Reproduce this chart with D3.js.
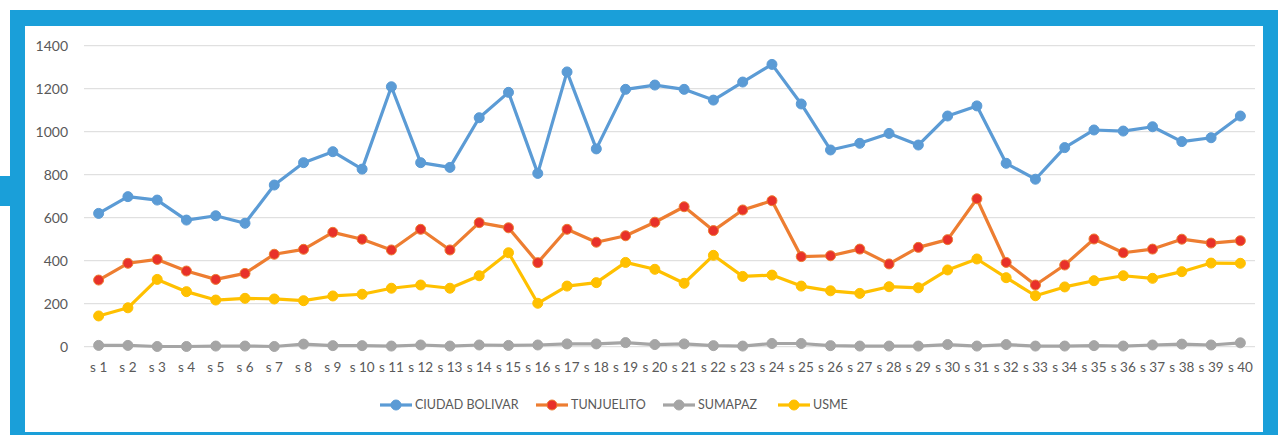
<!DOCTYPE html>
<html>
<head>
<meta charset="utf-8">
<script src="https://cdn.jsdelivr.net/npm/d3@7"></script>
<style>
body { margin:0; background:#fff; }
svg { display:block; font-family: Lato, "Open Sans", sans-serif; }
</style>
</head>
<body>
<svg></svg>
<script>
var WIDTH = 1286;
var HEIGHT = 435;

var semanas = d3.range(1,41).map(function(i){ return 's ' + i; });
var yTicks = [0,200,400,600,800,1000,1200,1400];

var ciudadBolivar = [620,698,682,589,609,574,752,856,907,826,1209,856,834,1065,1183,806,1278,920,1197,1217,
                     1197,1147,1231,1313,1129,915,946,992,938,1073,1120,853,779,926,1008,1003,1023,954,972,1073];
var tunjuelito = [310,388,406,352,313,341,430,453,532,500,450,546,450,577,553,391,546,486,516,579,
                  651,540,636,679,419,423,454,385,462,498,688,392,287,380,501,437,454,500,482,493];
var sumapaz = [6,6,1,1,3,3,1,12,5,5,3,8,3,8,6,8,13,13,19,10,
               13,5,3,15,15,5,3,3,3,10,3,10,3,3,5,3,8,12,8,18];
var usme = [143,181,313,256,217,225,222,214,236,244,272,287,272,330,437,202,282,298,392,360,
            295,425,327,333,282,260,248,279,274,357,408,321,237,278,307,330,318,349,389,388];

var series = [
  {name:'CIUDAD BOLIVAR', values:ciudadBolivar, line:'#5B9BD5', dot:'#5B9BD5'},
  {name:'TUNJUELITO', values:tunjuelito, line:'#ED7D31', dot:'#E8312A'},
  {name:'SUMAPAZ', values:sumapaz, line:'#A5A5A5', dot:'#A5A5A5'},
  {name:'USME', values:usme, line:'#FFC000', dot:'#FFC000'}
];
// draw order: gray at the back, blue on top
var drawOrder = [series[2], series[3], series[1], series[0]];

var svg = d3.select('svg')
  .attr('width',WIDTH)
  .attr('height',HEIGHT);

// blue frame
var frame = '#1A9FD9';
svg.append('rect').attr('x',10).attr('y',10).attr('width',1268).attr('height',440).attr('fill',frame);
svg.append('rect').attr('x',0).attr('y',176).attr('width',12).attr('height',30).attr('fill',frame);
svg.append('rect').attr('x',25).attr('y',26).attr('width',1238).attr('height',406).attr('fill','#fff');

var xScale = d3.scaleBand().domain(semanas).range([84,1255]);
var yScale = d3.scaleLinear().domain([0,1400]).range([346.7,45.7]);

// grid
svg.append('g').selectAll('line').data(yTicks).enter().append('line')
  .attr('x1',84).attr('x2',1255)
  .attr('y1',function(d){ return yScale(d); })
  .attr('y2',function(d){ return yScale(d); })
  .attr('stroke','#D9D9D9').attr('stroke-width',1);

var leftAxis = d3.axisLeft(yScale).tickValues(yTicks).tickFormat(d3.format('d')).tickSize(0).tickPadding(0);
var gy = svg.append('g').attr('transform','translate(68,0)').call(leftAxis);
gy.select('.domain').remove();
gy.selectAll('text').attr('fill','#595959').style('font-size','14px').style('font-family','Lato');

var bottomAxis = d3.axisBottom(xScale).tickSize(0).tickPadding(0);
var gx = svg.append('g').attr('transform','translate(0,362)').call(bottomAxis);
gx.select('.domain').remove();
gx.selectAll('text').attr('fill','#595959').style('font-size','13.5px').style('font-family','Lato');

var line = d3.line()
  .x(function(d,i){ return xScale(semanas[i]) + xScale.bandwidth()/2; })
  .y(function(d){ return yScale(d); });

drawOrder.forEach(function(s){
  var g = svg.append('g');
  g.append('path').datum(s.values)
    .attr('d',line)
    .attr('fill','none')
    .attr('stroke',s.line)
    .attr('stroke-width',3.2)
    .attr('stroke-linejoin','round');
  g.selectAll('circle').data(s.values).enter().append('circle')
    .attr('cx',function(d,i){ return xScale(semanas[i]) + xScale.bandwidth()/2; })
    .attr('cy',function(d){ return yScale(d); })
    .attr('r',5)
    .attr('fill',s.dot)
    .attr('stroke',s.line)
    .attr('stroke-width',1);
});

// legend
var legendX = [380,536,663,778];
var legend = svg.append('g').selectAll('g').data(series).enter().append('g')
  .attr('transform',function(d,i){ return 'translate(' + legendX[i] + ',405)'; });
legend.append('line').attr('x1',0).attr('x2',32).attr('y1',0).attr('y2',0)
  .attr('stroke',function(d){ return d.line; }).attr('stroke-width',3.2);
legend.append('circle').attr('cx',16).attr('cy',0).attr('r',5)
  .attr('fill',function(d){ return d.dot; }).attr('stroke',function(d){ return d.line; });
legend.append('text').attr('x',35).attr('y',0).attr('dy','0.35em')
  .attr('fill','#595959').style('font-size','12.5px')
  .text(function(d){ return d.name; });
</script>
</body>
</html>
